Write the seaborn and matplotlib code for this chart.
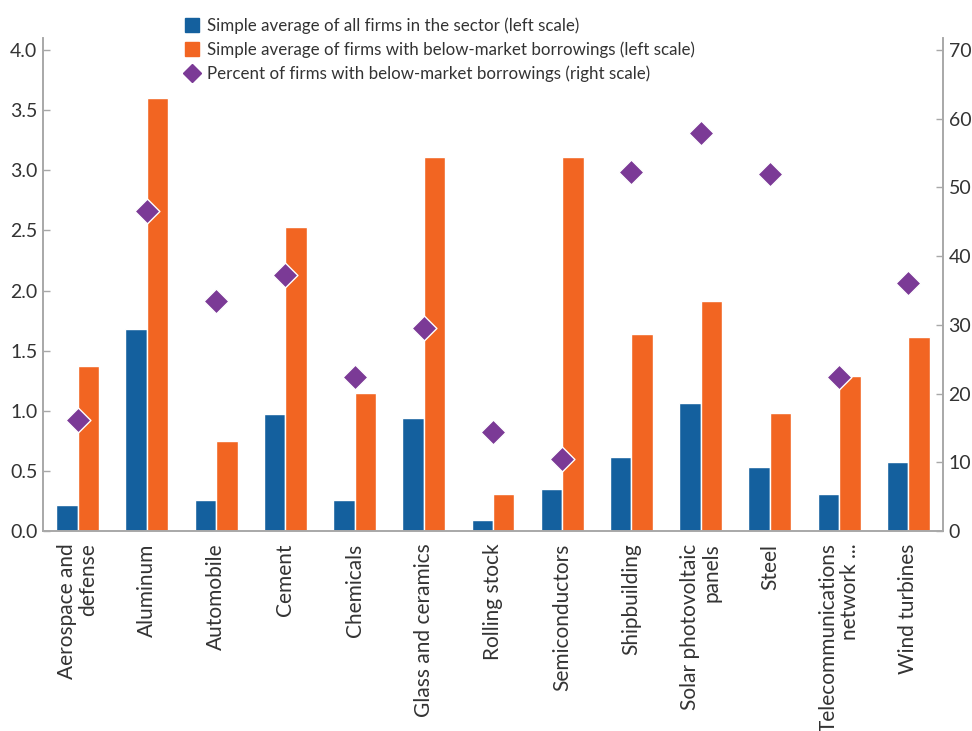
import numpy as np
import pandas as pd
import seaborn as sns
import matplotlib.pyplot as plt
from matplotlib.lines import Line2D

sectors = ["Aerospace and\ndefense", "Aluminum", "Automobile", "Cement", "Chemicals",
           "Glass and ceramics", "Rolling stock", "Semiconductors", "Shipbuilding",
           "Solar photovoltaic\npanels", "Steel", "Telecommunications\nnetwork ...",
           "Wind turbines"]
avg_all = [0.22, 1.68, 0.26, 0.97, 0.26, 0.94, 0.09, 0.35, 0.615, 1.065, 0.53, 0.31, 0.575]
avg_below = [1.37, 3.60, 0.75, 2.53, 1.15, 3.11, 0.31, 3.11, 1.64, 1.91, 0.98, 1.29, 1.61]
pct_below = [16.2, 46.6, 33.5, 37.3, 22.4, 29.5, 14.4, 10.5, 52.3, 57.9, 52.0, 22.4, 36.1]

lbl_all = "Simple average of all firms in the sector (left scale)"
lbl_below = "Simple average of firms with below-market borrowings (left scale)"
lbl_pct = "Percent of firms with below-market borrowings (right scale)"

blue = "#14609E"
orange = "#F26522"
purple = "#7B3A96"
text_c = "#333333"
spine_c = "#A8A8A8"

sns.set_style("white")
plt.rcParams['font.family'] = ['Lato', 'DejaVu Sans']
plt.rcParams['text.color'] = text_c

df = pd.DataFrame({
    "sector": sectors * 2,
    "value": avg_all + avg_below,
    "series": [lbl_all] * len(sectors) + [lbl_below] * len(sectors),
})

fig = plt.figure(figsize=(9.72, 7.31), dpi=100)
ax = fig.add_axes([43 / 972, 1 - 531 / 731, 900 / 972, 493 / 731])

sns.barplot(data=df, x="sector", y="value", hue="series", order=sectors,
            palette=[blue, orange], width=0.62, gap=0, saturation=1,
            legend=False, ax=ax)

ax2 = ax.twinx()
sns.scatterplot(x=np.arange(len(sectors)), y=pct_below, marker="D", s=160,
                color=purple, edgecolor="white", linewidth=1, ax=ax2,
                legend=False, zorder=5)

ax.set_xlim(-0.5, len(sectors) - 0.5)
ax.set_ylim(0, 4.1)
ax2.set_ylim(0, 71.75)
ax.set_yticks(np.arange(0, 4.01, 0.5))
ax.set_yticklabels([f"{v:.1f}" for v in np.arange(0, 4.01, 0.5)])
ax2.set_yticks(range(0, 71, 10))

ax.set_xticks(range(len(sectors)))
ax.set_xticklabels(sectors, rotation=90, ha="center", va="top",
                   multialignment="right", linespacing=1.05)
ax.set_xticks(np.arange(0.5, len(sectors) - 1, 1), minor=True)
ax.tick_params(axis="x", which="major", length=0, pad=9, labelsize=15, colors=text_c)
ax.tick_params(axis="x", which="minor", direction="in", length=5, width=1, color=spine_c)
ax.tick_params(axis="y", direction="in", length=5, width=1, color=spine_c,
               labelsize=14, labelcolor=text_c, pad=4)
ax2.tick_params(axis="y", direction="in", length=5, width=1, color=spine_c,
                labelsize=14, labelcolor=text_c, pad=4)
ax.set_xlabel("")
ax.set_ylabel("")
ax2.set_ylabel("")

for a in (ax, ax2):
    a.spines["top"].set_visible(False)
    for s in ("left", "right", "bottom"):
        a.spines[s].set_color(spine_c)
        a.spines[s].set_linewidth(1.2)

handles = [
    Line2D([], [], marker="s", linestyle="none", markersize=10, color=blue, label=lbl_all),
    Line2D([], [], marker="s", linestyle="none", markersize=10, color=orange, label=lbl_below),
    Line2D([], [], marker="D", linestyle="none", markersize=9.5, color=purple, label=lbl_pct),
]
fig.legend(handles=handles, loc="upper left", bbox_to_anchor=(176 / 972, 1 - 11 / 731),
           frameon=False, fontsize=12.2, handletextpad=0.3, handlelength=1.1,
           labelspacing=0.42, borderaxespad=0)

fig.savefig("out.png", dpi=100)
